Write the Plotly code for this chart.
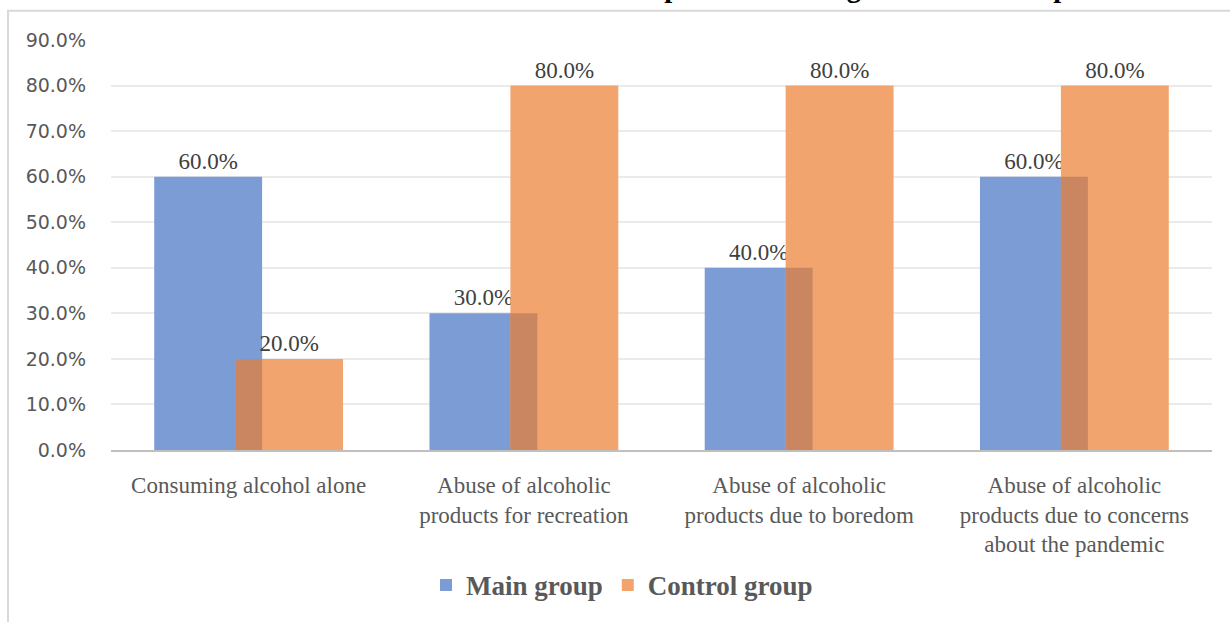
import plotly.graph_objects as go

categories = [
    "Consuming alcohol alone",
    "Abuse of alcoholic<br>products for recreation",
    "Abuse of alcoholic<br>products due to boredom",
    "Abuse of alcoholic<br>products due to concerns<br>about the pandemic",
]
main_group = [0.60, 0.30, 0.40, 0.60]
control_group = [0.20, 0.80, 0.80, 0.80]
series_names = ["Main group", "Control group"]
y_ticks = [0.0, 0.1, 0.2, 0.3, 0.4, 0.5, 0.6, 0.7, 0.8, 0.9]
title_text = ("Indication of the reasons for the abuse of alcoholic products during the "
              "COVID-19 pandemic in the groups")

W, H = 1230, 622
ML, MR, MT, MB = 111, 18, 40, 167
PW, PH = W - ML - MR, H - MT - MB

def px_x(p):
    return (p - ML) / PW

def px_y(p):
    return (H - MB - p) / PH

serif = "Liberation Serif, Times New Roman, serif"
bar_w = 0.392
main_off, ctrl_off = -0.343, -0.049
overlap_w = main_off + bar_w - ctrl_off
overlap = [min(a, b) for a, b in zip(main_group, control_group)]

fig = go.Figure()
fig.add_trace(go.Bar(
    x=categories, y=main_group, name=series_names[0],
    marker=dict(color="#7C9CD6", line=dict(width=0)),
    width=bar_w, offset=main_off,
    texttemplate="%{y:.1%}", textposition="outside", cliponaxis=False,
    textfont=dict(family=serif, size=23, color="#404040"),
))
fig.add_trace(go.Bar(
    x=categories, y=control_group, name=series_names[1],
    marker=dict(color="#F1A46E", line=dict(width=0)),
    width=bar_w, offset=ctrl_off,
    texttemplate="%{y:.1%}", textposition="outside", cliponaxis=False,
    textfont=dict(family=serif, size=23, color="#404040"),
))
fig.add_trace(go.Bar(
    x=categories, y=overlap, name="overlap", showlegend=False,
    marker=dict(color="#C98661", line=dict(width=0)),
    width=overlap_w, offset=ctrl_off, hoverinfo="skip",
))

fig.update_layout(
    width=W, height=H,
    margin=dict(l=ML, r=MR, t=MT, b=MB, pad=0),
    barmode="overlay",
    paper_bgcolor="white", plot_bgcolor="white",
    xaxis=dict(
        showgrid=False, showline=True, linecolor="#BFBFBF", linewidth=2,
        ticks="", ticklabelstandoff=13,
        tickfont=dict(family=serif, size=23, color="#595959"),
        fixedrange=True,
    ),
    yaxis=dict(
        range=[0, 0.9], tickvals=y_ticks, tickformat=".1%",
        showgrid=True, gridcolor="#EBEBEB", gridwidth=1.5,
        zeroline=False, showline=False, ticks="",
        ticklabelstandoff=24,
        tickfont=dict(family="DejaVu Sans, sans-serif", size=19, color="#595959"),
    ),
    legend=dict(
        orientation="h", x=px_x(622), xanchor="center", y=px_y(592), yanchor="middle",
        font=dict(family=serif, size=27, color="#595959", weight="bold"),
        itemsizing="constant", itemwidth=30, bgcolor="rgba(0,0,0,0)",
    ),
    showlegend=True,
)

fig.add_shape(type="rect", xref="paper", yref="paper",
              x0=px_x(8), y0=px_y(H + 50), x1=px_x(W + 50), y1=px_y(10.5),
              line=dict(color="#D9D9D9", width=2), fillcolor="rgba(0,0,0,0)", layer="below")

fig.add_annotation(xref="paper", yref="paper", x=px_x(45), y=px_y(4.5),
                   xanchor="left", yanchor="bottom", showarrow=False,
                   text=title_text,
                   font=dict(family=serif, size=28.5, color="#000000", weight="bold"))

fig.write_html("out.html")
